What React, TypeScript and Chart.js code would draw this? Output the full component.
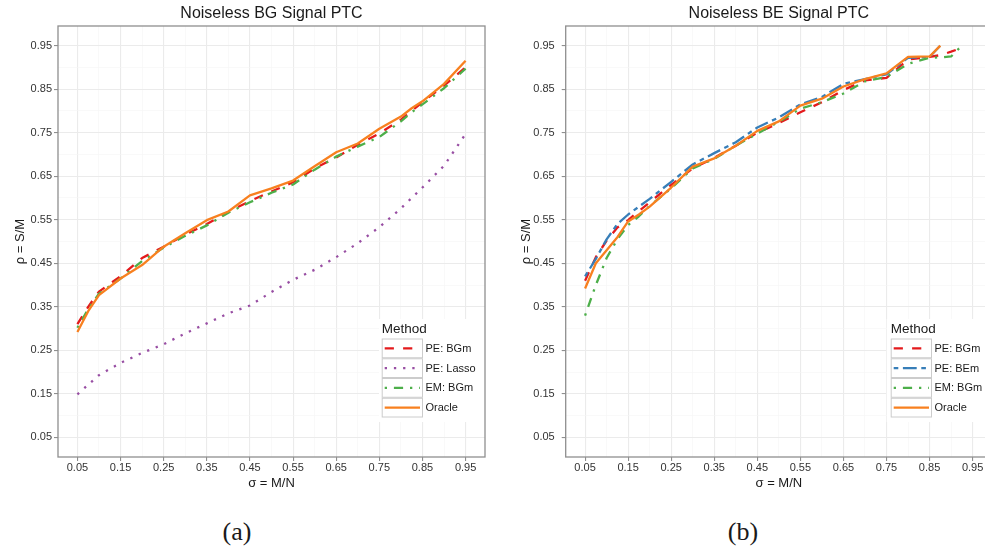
import React, { useEffect, useRef } from "react";
import { Chart, registerables } from "chart.js";

Chart.register(...registerables);

// ---------- data ----------
const TICK_VALUES = [0.05, 0.1, 0.15, 0.2, 0.25, 0.3, 0.35, 0.4, 0.45, 0.5, 0.55, 0.6, 0.65, 0.7, 0.75, 0.8, 0.85, 0.9, 0.95];
const TICK_LABELS = ["0.05", "", "0.15", "", "0.25", "", "0.35", "", "0.45", "", "0.55", "", "0.65", "", "0.75", "", "0.85", "", "0.95"];

// Panel (a): Noiseless BG Signal PTC
const SIGMA_A = [0.05, 0.075, 0.1, 0.15, 0.2, 0.25, 0.3, 0.35, 0.4, 0.45, 0.5, 0.55, 0.6, 0.65, 0.7, 0.75, 0.8, 0.825, 0.85, 0.9, 0.95];
const PE_BGM_A = [0.31, 0.35, 0.385, 0.42, 0.462, 0.488, 0.516, 0.54, 0.568, 0.593, 0.615, 0.636, 0.668, 0.693, 0.722, 0.748, 0.78, 0.8, 0.82, 0.858, 0.9];
const EM_BGM_A = [0.302, 0.345, 0.38, 0.415, 0.455, 0.486, 0.513, 0.537, 0.566, 0.59, 0.612, 0.631, 0.665, 0.695, 0.718, 0.74, 0.776, 0.797, 0.815, 0.852, 0.897];
const ORACLE_A = [0.292, 0.34, 0.377, 0.415, 0.446, 0.488, 0.519, 0.549, 0.569, 0.606, 0.622, 0.64, 0.673, 0.705, 0.725, 0.759, 0.787, 0.806, 0.822, 0.862, 0.915];
const SIGMA_LASSO = [0.05, 0.1, 0.15, 0.2, 0.25, 0.3, 0.35, 0.4, 0.45, 0.5, 0.55, 0.6, 0.65, 0.7, 0.75, 0.8, 0.85, 0.9, 0.95];
const PE_LASSO_A = [0.149, 0.193, 0.221, 0.244, 0.264, 0.289, 0.312, 0.335, 0.353, 0.384, 0.412, 0.435, 0.464, 0.496, 0.533, 0.576, 0.624, 0.674, 0.747];

// Panel (b): Noiseless BE Signal PTC
const SIGMA_B = [0.05, 0.075, 0.1, 0.125, 0.15, 0.175, 0.2, 0.25, 0.3, 0.35, 0.4, 0.45, 0.5, 0.55, 0.6, 0.65, 0.7, 0.75, 0.8, 0.85, 0.875, 0.9, 0.925];
const PE_BGM_B = [0.41, 0.464, 0.502, 0.532, 0.549, 0.57, 0.59, 0.63, 0.668, 0.692, 0.72, 0.75, 0.772, 0.797, 0.82, 0.848, 0.87, 0.876, 0.918, 0.924, 0.928, 0.936, 0.945];
const PE_BEM_B = [0.42, 0.46, 0.505, 0.54, 0.562, 0.58, 0.598, 0.637, 0.677, 0.703, 0.728, 0.762, 0.785, 0.815, 0.832, 0.862, 0.873, 0.884, 0.922, 0.924, 0.95];
const EM_BGM_B = [0.33, 0.4, 0.462, 0.505, 0.538, 0.558, 0.582, 0.622, 0.668, 0.69, 0.72, 0.748, 0.775, 0.805, 0.82, 0.84, 0.868, 0.878, 0.908, 0.922, 0.923, 0.925, 0.95];
const ORACLE_B = [0.392, 0.45, 0.48, 0.51, 0.546, 0.562, 0.58, 0.624, 0.672, 0.691, 0.72, 0.754, 0.776, 0.812, 0.828, 0.856, 0.873, 0.886, 0.924, 0.925, 0.95];

const LABELS_A = ["PE: BGm", "PE: Lasso", "EM: BGm", "Oracle"];
const LABELS_B = ["PE: BGm", "PE: BEm", "EM: BGm", "Oracle"];

// ---------- styles ----------
const LW = 2.3;
const RED = "#E41A1C";
const PURPLE = "#984EA3";
const GREEN = "#4DAF4A";
const BLUE = "#377EB8";
const ORANGE = "#F8801F";
const DASHED = [9.2, 9.2];
const DOTTED = [2.3, 6.9];
const DOTDASH = [2.3, 6.9, 9.2, 6.9];
const TWODASH = [4.6, 4.6, 13.8, 4.6];
const FONT = "'Liberation Sans', Arial, Helvetica, sans-serif";

function pts(xs: number[], ys: number[]) {
  return ys.map((y, i) => ({ x: xs[i], y }));
}

function ds(label: string, xs: number[], ys: number[], color: string, dash: number[], order: number) {
  return {
    label,
    data: pts(xs, ys),
    borderColor: color,
    backgroundColor: color,
    borderWidth: LW,
    borderDash: dash,
    borderCapStyle: "butt",
    borderJoinStyle: "round",
    pointRadius: 0,
    pointHoverRadius: 0,
    tension: 0,
    fill: false,
    order,
  };
}

const ggPlugin = {
  id: "ggPanel",
  afterDraw(chart: any) {
    const ctx = chart.ctx;
    const ca = chart.chartArea;
    const lg = chart.options.plugins.ggPanel;
    if (lg) {
      const bgL = ca.right - lg.bgWidth;
      const bgT = ca.bottom - 138;
      const bgB = ca.bottom - 35;
      ctx.save();
      ctx.fillStyle = "#ffffff";
      ctx.fillRect(bgL, bgT, ca.right - bgL, bgB - bgT);
      ctx.fillStyle = "#1a1a1a";
      ctx.textBaseline = "middle";
      ctx.textAlign = "left";
      ctx.font = `13.5px ${FONT}`;
      ctx.fillText("Method", bgL + lg.padLeft, ca.bottom - 127.5);
      const rowH = 19.75;
      const keyW = 41.3;
      const top0 = ca.bottom - 118.5;
      const keyX = bgL + lg.padLeft;
      lg.items.forEach((it: any, i: number) => {
        const top = top0 + i * rowH;
        ctx.setLineDash([]);
        ctx.strokeStyle = "#CCCCCC";
        ctx.lineWidth = 1;
        ctx.strokeRect(keyX + 0.5, top + 0.5, keyW - 1, rowH - 1);
        ctx.beginPath();
        ctx.setLineDash(it.dash);
        ctx.lineCap = "butt";
        ctx.strokeStyle = it.color;
        ctx.lineWidth = LW;
        ctx.moveTo(keyX + 3, top + rowH / 2);
        ctx.lineTo(keyX + keyW - 3, top + rowH / 2);
        ctx.stroke();
        ctx.setLineDash([]);
        ctx.fillStyle = "#1a1a1a";
        ctx.font = `11px ${FONT}`;
        ctx.fillText(it.label, keyX + keyW + 2.5, top + rowH / 2 + 0.5);
      });
      ctx.restore();
    }
    ctx.save();
    ctx.strokeStyle = "#8f8f8f";
    ctx.lineWidth = 1.3;
    ctx.setLineDash([]);
    ctx.strokeRect(ca.left, ca.top, ca.right - ca.left, ca.bottom - ca.top);
    ctx.restore();
  },
};

function axis(kind: "x" | "y", fitSize: number, titleText: string, titlePad: any, tickPad: number) {
  return {
    type: "linear",
    min: 0.005,
    max: 0.995,
    afterBuildTicks: (s: any) => {
      s.ticks = TICK_VALUES.map((v) => ({ value: v }));
    },
    afterFit: (s: any) => {
      if (kind === "x") s.height = fitSize;
      else s.width = fitSize;
    },
    ticks: {
      autoSkip: false,
      maxRotation: 0,
      minRotation: 0,
      padding: tickPad,
      color: "#333333",
      font: { size: 11, family: FONT },
      callback: (_v: any, i: number) => TICK_LABELS[i],
    },
    grid: {
      color: (c: any) => (c.index % 2 === 0 ? "#EBEBEB" : "#F5F5F5"),
      lineWidth: (c: any) => (c.index % 2 === 0 ? 1.1 : 0.6),
      tickColor: (c: any) => (c.index % 2 === 0 ? "#8f8f8f" : "rgba(0,0,0,0)"),
      tickLength: 4,
      drawTicks: true,
    },
    border: { display: false },
    title: {
      display: true,
      text: titleText,
      color: "#1a1a1a",
      font: { size: 13, family: FONT },
      padding: titlePad,
    },
  };
}

function Panel(props: any) {
  const ref = useRef<HTMLCanvasElement | null>(null);
  useEffect(() => {
    if (!ref.current) return;
    const chart = new Chart(ref.current, {
      type: "line",
      data: { datasets: props.datasets },
      options: {
        responsive: false,
        maintainAspectRatio: false,
        animation: false,
        devicePixelRatio: 1,
        layout: { padding: { left: 0, right: props.padRight, top: 0, bottom: 0 } },
        scales: {
          x: axis("x", 43, "σ = M/N", { top: 0, bottom: 9 }, 0),
          y: axis("y", props.yWidth, "ρ = S/M", { top: props.yTitlePad, bottom: 0 }, props.yTickPad),
        },
        plugins: {
          legend: { display: false },
          tooltip: { enabled: false },
          title: {
            display: true,
            text: props.title,
            fullSize: false,
            color: "#1a1a1a",
            font: { size: 16, weight: "normal", family: FONT },
            padding: { top: 3.5, bottom: 3.3 },
          },
          ggPanel: { items: props.legend, bgWidth: props.bgWidth, padLeft: props.legendPad },
        },
      } as any,
      plugins: [ggPlugin],
    });
    return () => chart.destroy();
  }, []);
  return (
    <canvas
      ref={ref}
      width={500}
      height={500}
      style={{ position: "absolute", left: props.left, top: 0, width: 500, height: 500 }}
    />
  );
}

export default function App() {
  const dsA = [
    ds(LABELS_A[0], SIGMA_A, PE_BGM_A, RED, DASHED, 3),
    ds(LABELS_A[1], SIGMA_LASSO, PE_LASSO_A, PURPLE, DOTTED, 2),
    ds(LABELS_A[2], SIGMA_A, EM_BGM_A, GREEN, DOTDASH, 1),
    ds(LABELS_A[3], SIGMA_A, ORACLE_A, ORANGE, [], 0),
  ];
  const dsB = [
    ds(LABELS_B[0], SIGMA_B, PE_BGM_B, RED, DASHED, 3),
    ds(LABELS_B[1], SIGMA_B, PE_BEM_B, BLUE, TWODASH, 2),
    ds(LABELS_B[2], SIGMA_B, EM_BGM_B, GREEN, DOTDASH, 1),
    ds(LABELS_B[3], SIGMA_B, ORACLE_B, ORANGE, [], 0),
  ];
  const legA = [
    { label: LABELS_A[0], color: RED, dash: DASHED },
    { label: LABELS_A[1], color: PURPLE, dash: DOTTED },
    { label: LABELS_A[2], color: GREEN, dash: DOTDASH },
    { label: LABELS_A[3], color: ORANGE, dash: [] },
  ];
  const legB = [
    { label: LABELS_B[0], color: RED, dash: DASHED },
    { label: LABELS_B[1], color: BLUE, dash: TWODASH },
    { label: LABELS_B[2], color: GREEN, dash: DOTDASH },
    { label: LABELS_B[3], color: ORANGE, dash: [] },
  ];
  const capStyle: any = {
    position: "absolute",
    top: 515,
    width: 100,
    textAlign: "center",
    fontFamily: "'Liberation Serif', 'DejaVu Serif', serif",
    fontSize: 26,
    lineHeight: "34px",
    color: "#1a1a1a",
  };
  return (
    <div style={{ position: "fixed", left: 0, top: 0, width: 985, height: 550, overflow: "hidden", background: "#fff" }}>
      <Panel
        left={0}
        datasets={dsA}
        legend={legA}
        title="Noiseless BG Signal PTC"
        padRight={15}
        yWidth={58}
        yTitlePad={13}
        yTickPad={2}
        bgWidth={106}
        legendPad={2.7}
      />
      <Panel
        left={500}
        datasets={dsB}
        legend={legB}
        title="Noiseless BE Signal PTC"
        padRight={8}
        yWidth={65.7}
        yTitlePad={19}
        yTickPad={7}
        bgWidth={105.3}
        legendPad={4}
      />
      <div style={{ ...capStyle, left: 187 }}>(a)</div>
      <div style={{ ...capStyle, left: 693 }}>(b)</div>
    </div>
  );
}
